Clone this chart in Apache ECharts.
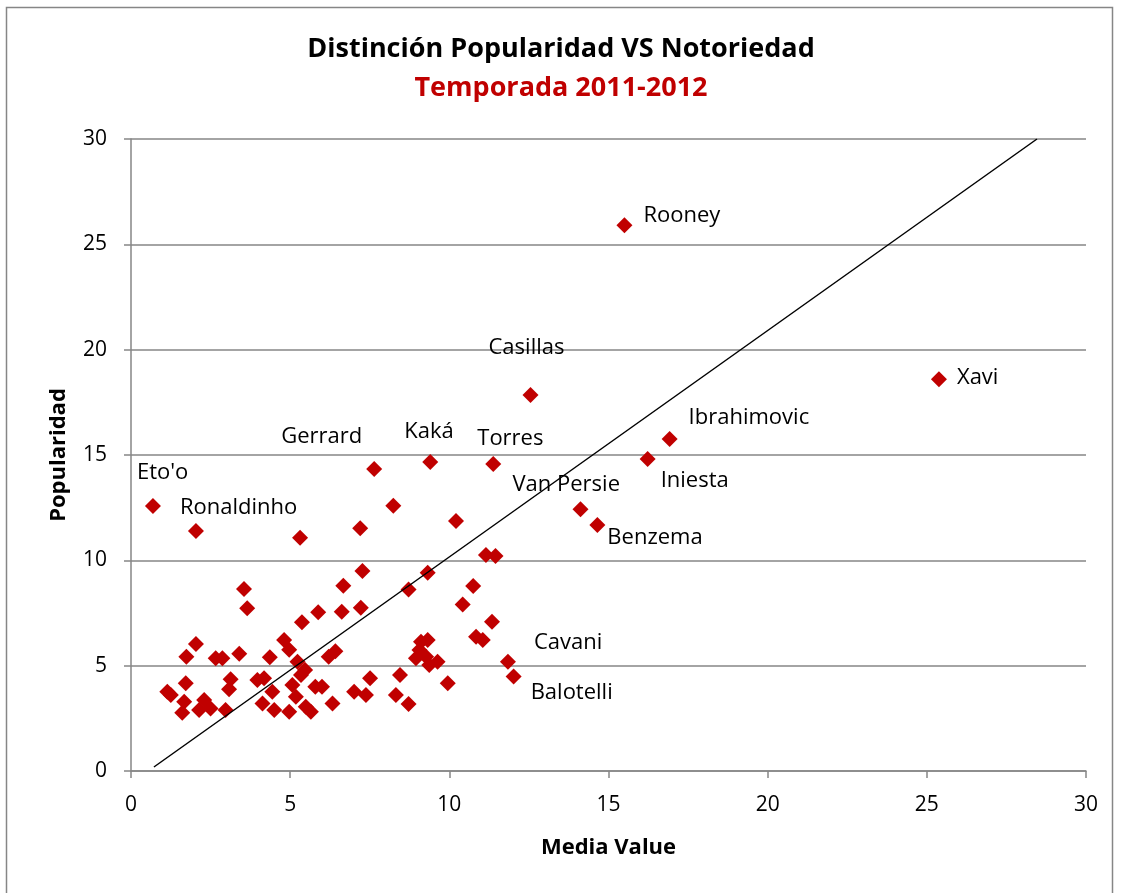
<!DOCTYPE html>
<html>
<head>
<meta charset="utf-8">
<title>Distinción Popularidad VS Notoriedad</title>
<script src="https://cdn.jsdelivr.net/npm/echarts@6/dist/echarts.min.js"></script>
<style>
  html, body { margin: 0; padding: 0; background: #fff; }
  #chart { width: 1122px; height: 893px; }
</style>
</head>
<body>
<div id="chart"></div>
<script>
  // jugadores con nombre
  const playerNames = ['Rooney', 'Xavi', 'Casillas', 'Ibrahimovic', 'Iniesta', 'Torres', 'Kaká', 'Gerrard',
    "Eto'o", 'Ronaldinho', 'Van Persie', 'Benzema', 'Cavani', 'Balotelli'];
  const playerMedia = [15.5, 25.38, 12.55, 16.92, 16.23, 11.38, 9.4, 7.64, 0.69, 2.04, 14.12, 14.65, 11.84, 12.02];
  const playerPop = [25.9, 18.6, 17.85, 15.76, 14.81, 14.57, 14.67, 14.33, 12.58, 11.39, 12.43, 11.68, 5.19, 4.48];

  // resto de jugadores (sin etiqueta)
  const otherMedia = [1.14, 1.25, 1.72, 1.67, 1.61, 1.74, 2.04, 2.3, 2.14, 2.5, 2.66, 2.87, 2.97, 3.13, 3.08,
    3.4, 3.55, 3.65, 3.97, 4.18, 4.13, 4.44, 4.5, 4.36, 4.81, 4.97, 4.97, 5.07, 5.18, 5.23, 5.34, 5.31, 5.37,
    5.47, 5.49, 5.65, 5.88, 5.79, 6.0, 6.21, 6.42, 6.33, 6.62, 6.67, 7.01, 7.38, 7.51, 7.2, 7.22, 7.27, 8.24,
    8.45, 8.32, 8.72, 8.72, 9.11, 9.32, 9.06, 8.95, 9.27, 9.37, 9.63, 9.32, 9.95, 10.21, 10.42, 10.75, 10.84,
    11.05, 11.15, 11.45, 11.34];
  const otherPop = [3.76, 3.61, 4.16, 3.29, 2.77, 5.42, 6.03, 3.37, 2.9, 2.97, 5.35, 5.35, 2.9, 4.35, 3.88,
    5.57, 8.64, 7.72, 4.32, 4.4, 3.21, 3.76, 2.9, 5.4, 6.22, 5.75, 2.81, 4.08, 3.53, 5.19, 4.56, 11.07, 7.06,
    4.79, 3.05, 2.81, 7.53, 4.0, 4.0, 5.42, 5.68, 3.21, 7.56, 8.79, 3.76, 3.61, 4.4, 11.52, 7.75, 9.49, 12.59,
    4.56, 3.61, 3.18, 8.62, 6.14, 6.22, 5.74, 5.35, 5.42, 5.03, 5.19, 9.41, 4.16, 11.87, 7.9, 8.78, 6.37,
    6.22, 10.25, 10.2, 7.08];

  // linea de tendencia
  const trendX = [0.72, 28.46];
  const trendY = [0.19, 30];

  const axisTicks = [0, 5, 10, 15, 20, 25, 30];

  // posicion de cada etiqueta respecto al punto
  const labelOffsets = {
    'Rooney': [11, -10],
    'Xavi': [10, -1],
    'Casillas': [-50, -47],
    'Ibrahimovic': [11, -21],
    'Iniesta': [5, 22],
    'Torres': [-24, -25],
    'Kaká': [-34, -30],
    'Gerrard': [-101, -32],
    "Eto'o": [-24, -33],
    'Ronaldinho': [-24, -23],
    'Van Persie': [-76, -24],
    'Benzema': [2, 13],
    'Cavani': [18, -19],
    'Balotelli': [9, 16],
  };

  const FONT = '"Open Sans", Lato, sans-serif';
  const red = '#C00000';
  const gray = '#868686';

  const chart = echarts.init(document.getElementById('chart'));

  const labeledData = playerNames.map((name, i) => ({
    name: name,
    value: [playerMedia[i], playerPop[i]],
    label: { show: true, position: 'right', distance: 0, offset: labelOffsets[name] },
  }));
  const otherData = otherMedia.map((x, i) => [x, otherPop[i]]);
  const trendData = trendX.map((x, i) => [x, trendY[i]]);

  const option = {
    backgroundColor: '#fff',
    animation: false,
    textStyle: { fontFamily: FONT },
    title: [
      {
        text: 'Distinción Popularidad VS Notoriedad',
        left: 'center',
        top: 31,
        textStyle: { fontFamily: FONT, fontSize: 27, fontWeight: 'bold', color: '#000' },
      },
      {
        text: 'Temporada 2011-2012',
        left: 'center',
        top: 70,
        textStyle: { fontFamily: FONT, fontSize: 27, fontWeight: 'bold', color: red },
      },
    ],
    graphic: [
      {
        type: 'rect',
        shape: { x: 6.5, y: 7.5, width: 1106, height: 900 },
        style: { fill: 'none', stroke: gray, lineWidth: 1.5 },
        silent: true,
      },
    ],
    grid: { left: 131, right: 36, top: 139, bottom: 122 },
    xAxis: {
      type: 'value',
      min: axisTicks[0],
      max: axisTicks[axisTicks.length - 1],
      interval: 5,
      name: 'Media Value',
      nameLocation: 'middle',
      nameGap: 66,
      nameTextStyle: { fontFamily: FONT, fontSize: 22, fontWeight: 'bold', color: '#000' },
      axisLine: { show: true, lineStyle: { color: gray, width: 1.5 } },
      axisTick: { show: true, length: 7, lineStyle: { color: gray, width: 1.5 } },
      axisLabel: { fontFamily: FONT, fontSize: 21, color: '#000', margin: 24 },
      splitLine: { show: false },
    },
    yAxis: {
      type: 'value',
      min: axisTicks[0],
      max: axisTicks[axisTicks.length - 1],
      interval: 5,
      name: 'Popularidad',
      nameLocation: 'middle',
      nameGap: 61,
      nameTextStyle: { fontFamily: FONT, fontSize: 22, fontWeight: 'bold', color: '#000' },
      axisLine: { show: true, lineStyle: { color: gray, width: 1.5 } },
      axisTick: { show: true, length: 7, lineStyle: { color: gray, width: 1.5 } },
      axisLabel: { fontFamily: FONT, fontSize: 21, color: '#000', margin: 24 },
      splitLine: { show: true, lineStyle: { color: gray, width: 1.5 } },
    },
    series: [
      {
        name: 'Tendencia',
        type: 'line',
        data: trendData,
        showSymbol: false,
        lineStyle: { color: '#000', width: 1.5 },
        silent: true,
        z: 3,
      },
      {
        name: 'Jugadores',
        type: 'scatter',
        symbol: 'diamond',
        symbolSize: 16,
        itemStyle: { color: red, opacity: 1 },
        data: otherData,
        z: 2,
      },
      {
        name: 'Destacados',
        type: 'scatter',
        symbol: 'diamond',
        symbolSize: 16,
        itemStyle: { color: red, opacity: 1 },
        label: {
          formatter: '{b}',
          fontFamily: FONT,
          fontSize: 22,
          color: '#000',
        },
        data: labeledData,
        z: 4,
      },
    ],
  };

  chart.setOption(option);
</script>
</body>
</html>
